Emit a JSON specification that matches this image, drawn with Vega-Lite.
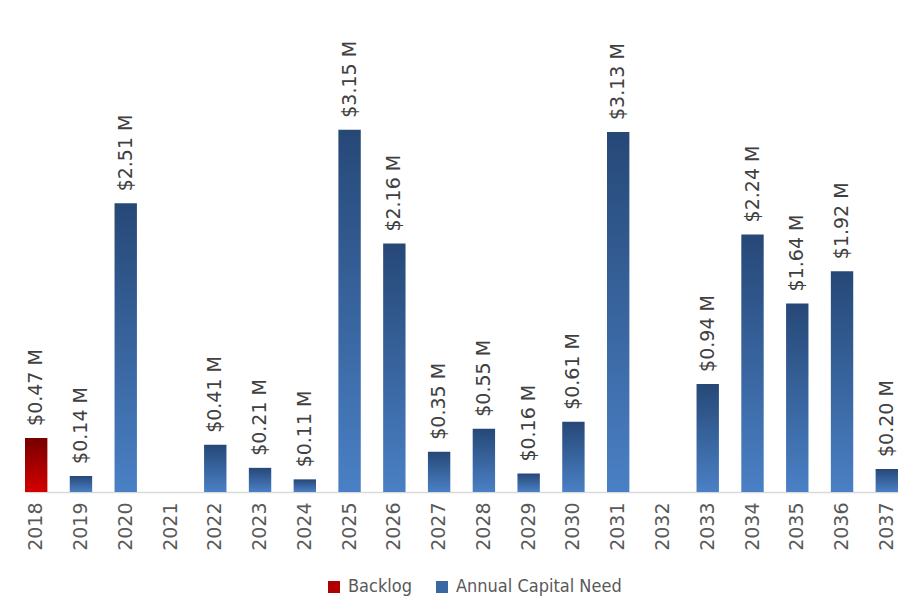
{
  "$schema": "https://vega.github.io/schema/vega-lite/v6.json",
  "width": 873,
  "height": 460,
  "autosize": {"type": "none"},
  "padding": {"left": 25, "top": 32, "right": 9, "bottom": 115},
  "background": "white",
  "config": {"view": {"stroke": null}},
  "data": {
    "values": [
      {"year": "2018", "value": 0.47, "series": "Backlog"},
      {"year": "2019", "value": 0.14, "series": "Annual Capital Need"},
      {"year": "2020", "value": 2.51, "series": "Annual Capital Need"},
      {"year": "2021", "value": null, "series": "Annual Capital Need"},
      {"year": "2022", "value": 0.41, "series": "Annual Capital Need"},
      {"year": "2023", "value": 0.21, "series": "Annual Capital Need"},
      {"year": "2024", "value": 0.11, "series": "Annual Capital Need"},
      {"year": "2025", "value": 3.15, "series": "Annual Capital Need"},
      {"year": "2026", "value": 2.16, "series": "Annual Capital Need"},
      {"year": "2027", "value": 0.35, "series": "Annual Capital Need"},
      {"year": "2028", "value": 0.55, "series": "Annual Capital Need"},
      {"year": "2029", "value": 0.16, "series": "Annual Capital Need"},
      {"year": "2030", "value": 0.61, "series": "Annual Capital Need"},
      {"year": "2031", "value": 3.13, "series": "Annual Capital Need"},
      {"year": "2032", "value": null, "series": "Annual Capital Need"},
      {"year": "2033", "value": 0.94, "series": "Annual Capital Need"},
      {"year": "2034", "value": 2.24, "series": "Annual Capital Need"},
      {"year": "2035", "value": 1.64, "series": "Annual Capital Need"},
      {"year": "2036", "value": 1.92, "series": "Annual Capital Need"},
      {"year": "2037", "value": 0.20, "series": "Annual Capital Need"}
    ]
  },
  "encoding": {
    "x": {
      "field": "year",
      "type": "ordinal",
      "scale": {
        "domain": ["2018", "2019", "2020", "2021", "2022", "2023", "2024", "2025", "2026", "2027", "2028", "2029", "2030", "2031", "2032", "2033", "2034", "2035", "2036", "2037"],
        "paddingInner": 0.5,
        "paddingOuter": 0
      },
      "axis": {
        "title": null,
        "labelAngle": -90,
        "labelFont": "DejaVu Sans",
        "labelFontSize": 19,
        "labelColor": "#595959",
        "labelPadding": 10,
        "ticks": false,
        "domainColor": "#d9d9d9",
        "domainWidth": 1.5
      }
    },
    "y": {
      "field": "value",
      "type": "quantitative",
      "scale": {"domain": [0, 4]},
      "axis": null
    }
  },
  "layer": [
    {
      "mark": {"type": "bar", "opacity": 0},
      "encoding": {
        "color": {
          "field": "series",
          "type": "nominal",
          "scale": {
            "domain": ["Backlog", "Annual Capital Need"],
            "range": ["#b00000", "#3a68a3"]
          },
          "legend": {
            "title": null,
            "orient": "none",
            "direction": "horizontal",
            "legendX": 300,
            "legendY": 546,
            "symbolType": "square",
            "symbolSize": 144,
            "symbolOpacity": 1,
            "symbolStrokeWidth": 0,
            "labelFont": "DejaVu Sans Condensed",
            "labelFontSize": 18,
            "labelColor": "#595959",
            "labelLimit": 0,
            "columnPadding": 20,
            "labelOffset": 5
          }
        }
      }
    },
    {
      "transform": [{"filter": "datum.series == 'Backlog'"}],
      "mark": {
        "type": "bar",
        "color": {"gradient": "linear", "x1": 0, "y1": 0, "x2": 0, "y2": 1, "stops": [{"offset": 0, "color": "#760000"}, {"offset": 1, "color": "#d40000"}]}
      }
    },
    {
      "transform": [{"filter": "datum.series == 'Annual Capital Need'"}],
      "mark": {
        "type": "bar",
        "color": {"gradient": "linear", "x1": 0, "y1": 0, "x2": 0, "y2": 1, "stops": [{"offset": 0, "color": "#264877"}, {"offset": 1, "color": "#4a80c5"}]}
      }
    },
    {
      "transform": [
        {"filter": "datum.value > 0"},
        {"calculate": "'$' + format(datum.value, '.2f') + ' M'", "as": "label"}
      ],
      "mark": {
        "type": "text",
        "angle": -90,
        "align": "left",
        "baseline": "middle",
        "dx": 12,
        "font": "DejaVu Sans",
        "fontSize": 19,
        "color": "#404040"
      },
      "encoding": {
        "text": {"field": "label"}
      }
    }
  ]
}
